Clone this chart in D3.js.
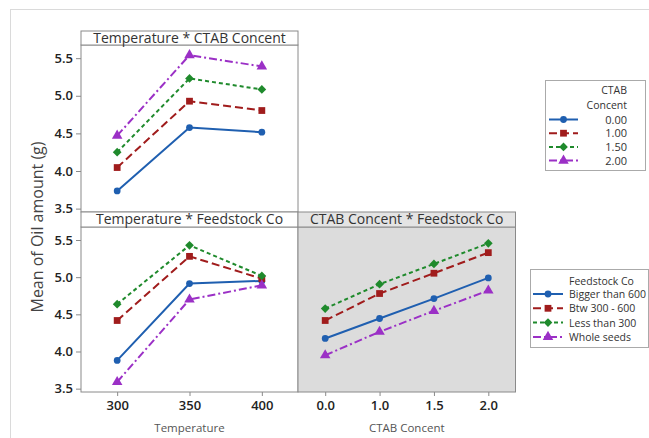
<!DOCTYPE html>
<html lang="en">
<head>
<meta charset="UTF-8" />
<script src="https://d3js.org/d3.v7.min.js"></script>
<style>
  body { margin: 0; background: #fff; }
  text { font-family: "Open Sans", "Noto Sans", sans-serif; }
</style>
</head>
<body>
<div id="chart"></div>
<script>
// levels
var temps = ["300", "350", "400"];
var ctabLevels = ["0.0", "1.0", "1.5", "2.0"];
var ctabLegend = ["0.00", "1.00", "1.50", "2.00"];
var feedstocks = ["Bigger than 600", "Btw 300 - 600", "Less than 300", "Whole seeds"];
var yTicks = [3.5, 4.0, 4.5, 5.0, 5.5];

// means: one row per series
var tempByCtab = [
  [3.735, 4.578, 4.516],
  [4.046, 4.928, 4.804],
  [4.250, 5.230, 5.084],
  [4.470, 5.540, 5.390]
];
var tempByFeed = [
  [3.880, 4.914, 4.950],
  [4.417, 5.280, 4.980],
  [4.637, 5.429, 5.017],
  [3.590, 4.700, 4.890]
];
var ctabByFeed = [
  [4.175, 4.444, 4.712, 4.990],
  [4.417, 4.780, 5.053, 5.330],
  [4.578, 4.905, 5.178, 5.455],
  [3.950, 4.265, 4.547, 4.820]
];

// series styling (same order in every panel)
var colors = ["#1f5fb0", "#a01c1c", "#1f8a2c", "#9b30c6"];
var dashes = [null, "8,4", "4,3", "8,3,2,3"];
var symbols = [d3.symbolCircle, d3.symbolSquare, d3.symbolSquare, d3.symbolTriangle];
var symRot = [0, 0, 45, 0];
var symSize = [36, 46, 38, 48];

var W = 649, H = 438;
var svg = d3.select("#chart").append("svg")
    .attr("width", W).attr("height", H);

svg.append("rect").attr("width", W).attr("height", H).attr("fill", "#fff");
// outer frame (top and left only visible)
svg.append("line").attr("x1", 10).attr("x2", W).attr("y1", 9.5).attr("y2", 9.5)
    .attr("stroke", "#dadada");
svg.append("line").attr("x1", 10.5).attr("x2", 10.5).attr("y1", 9).attr("y2", H)
    .attr("stroke", "#dadada");

var y0 = 3.455, y1 = 5.675;

var panels = [
  {x0: 81, x1: 298, top: 31, titleH: 14, bottom: 212, title: "Temperature * CTAB Concent",
   levels: temps, data: tempByCtab, bg: "#fff", stripBg: "#fff", yAxis: true, xAxis: false},
  {x0: 81, x1: 298, top: 212, titleH: 15, bottom: 392, title: "Temperature * Feedstock Co",
   levels: temps, data: tempByFeed, bg: "#fff", stripBg: "#fff", yAxis: true, xAxis: true, xTitle: "Temperature"},
  {x0: 298, x1: 515.5, top: 212, titleH: 15, bottom: 392, title: "CTAB Concent * Feedstock Co",
   levels: ctabLevels, data: ctabByFeed, bg: "#dcdcdc", stripBg: "#e4e4e4", yAxis: false, xAxis: true, xTitle: "CTAB Concent"}
];

function marker(s) {
  return d3.symbol().type(symbols[s]).size(symSize[s]);
}

panels.forEach(function(p) {
  var plotTop = p.top + p.titleH;
  var x = d3.scalePoint().domain(p.levels).range([p.x0, p.x1]).padding(0.5);
  var y = d3.scaleLinear().domain([y0, y1]).range([p.bottom, plotTop]);

  var g = svg.append("g");
  g.append("rect").attr("x", p.x0).attr("y", plotTop)
    .attr("width", p.x1 - p.x0).attr("height", p.bottom - plotTop)
    .attr("fill", p.bg).attr("stroke", "#8a8a8a");
  g.append("rect").attr("x", p.x0).attr("y", p.top)
    .attr("width", p.x1 - p.x0).attr("height", p.titleH)
    .attr("fill", p.stripBg).attr("stroke", "#8a8a8a");
  g.append("text")
    .attr("x", (p.x0 + p.x1) / 2).attr("y", p.top + p.titleH / 2 + 1)
    .attr("text-anchor", "middle").attr("dominant-baseline", "middle")
    .attr("font-size", "14px").attr("fill", "#333")
    .text(p.title);

  if (p.yAxis) {
    var ya = g.append("g").attr("transform", "translate(" + p.x0 + ",0)")
      .call(d3.axisLeft(y).tickValues(yTicks).tickFormat(d3.format(".1f")).tickSize(5).tickPadding(3));
    ya.select(".domain").remove();
    ya.selectAll("line").attr("stroke", "#8a8a8a");
    ya.selectAll("text").attr("font-size", "13px").attr("fill", "#222")
      .attr("font-weight", 600).attr("font-family", "\"Open Sans\", sans-serif");
  }
  if (p.xAxis) {
    var xa = g.append("g").attr("transform", "translate(0," + p.bottom + ")")
      .call(d3.axisBottom(x).tickSize(4).tickPadding(5));
    xa.select(".domain").remove();
    xa.selectAll("line").attr("stroke", "#8a8a8a");
    xa.selectAll("text").attr("font-size", "13px").attr("fill", "#222")
      .attr("font-weight", 600).attr("font-family", "\"Open Sans\", sans-serif");
    g.append("text").attr("x", (p.x0 + p.x1) / 2).attr("y", 432)
      .attr("text-anchor", "middle").attr("font-size", "11.5px").attr("fill", "#555")
      .text(p.xTitle);
  }

  var line = d3.line()
    .x(function(d, i) { return x(p.levels[i]); })
    .y(function(d) { return y(d); });

  p.data.forEach(function(series, s) {
    g.append("path").datum(series)
      .attr("d", line)
      .attr("fill", "none")
      .attr("stroke", colors[s])
      .attr("stroke-width", 2)
      .attr("stroke-dasharray", dashes[s]);
    g.selectAll(null).data(series).enter().append("path")
      .attr("d", marker(s))
      .attr("transform", function(d, i) {
        return "translate(" + x(p.levels[i]) + "," + y(d) + ") rotate(" + symRot[s] + ")";
      })
      .attr("fill", colors[s]);
  });
});

// y axis title
svg.append("text")
  .attr("transform", "translate(43,227) rotate(-90)")
  .attr("text-anchor", "middle")
  .attr("font-size", "16px").attr("fill", "#444")
  .text("Mean of Oil amount (g)");

function legendKey(g, s, xa, xb, yy) {
  g.append("line").attr("x1", xa).attr("x2", xb).attr("y1", yy).attr("y2", yy)
    .attr("stroke", colors[s]).attr("stroke-width", 2)
    .attr("stroke-dasharray", dashes[s]);
  g.append("path")
    .attr("d", marker(s))
    .attr("transform", "translate(" + ((xa + xb) / 2) + "," + yy + ") rotate(" + symRot[s] + ")")
    .attr("fill", colors[s]);
}

// legend: CTAB Concent
var lg1 = svg.append("g");
lg1.append("rect").attr("x", 545.5).attr("y", 80.5).attr("width", 100).attr("height", 90)
  .attr("fill", "#fff").attr("stroke", "#aaa");
lg1.append("text").attr("x", 627).attr("y", 94).attr("text-anchor", "end")
  .attr("font-size", "10.5px").attr("fill", "#333").text("CTAB");
lg1.append("text").attr("x", 627).attr("y", 108.5).attr("text-anchor", "end")
  .attr("font-size", "10.5px").attr("fill", "#333").text("Concent");
ctabLegend.forEach(function(name, s) {
  var yy = 119.5 + s * 13.7;
  legendKey(lg1, s, 549, 578, yy);
  lg1.append("text").attr("x", 627).attr("y", yy + 4).attr("text-anchor", "end")
    .attr("font-size", "11px").attr("fill", "#333").text(name);
});

// legend: Feedstock Co
var lg2 = svg.append("g");
lg2.append("rect").attr("x", 530.5).attr("y", 269.5).attr("width", 118).attr("height", 78)
  .attr("fill", "#fff").attr("stroke", "#aaa");
lg2.append("text").attr("x", 569).attr("y", 285)
  .attr("font-size", "10.5px").attr("fill", "#333").text("Feedstock Co");
feedstocks.forEach(function(name, s) {
  var yy = 294 + s * 14.3;
  legendKey(lg2, s, 533, 563, yy);
  lg2.append("text").attr("x", 569).attr("y", yy + 4)
    .attr("font-size", "10.5px").attr("fill", "#333").text(name);
});
</script>
</body>
</html>
